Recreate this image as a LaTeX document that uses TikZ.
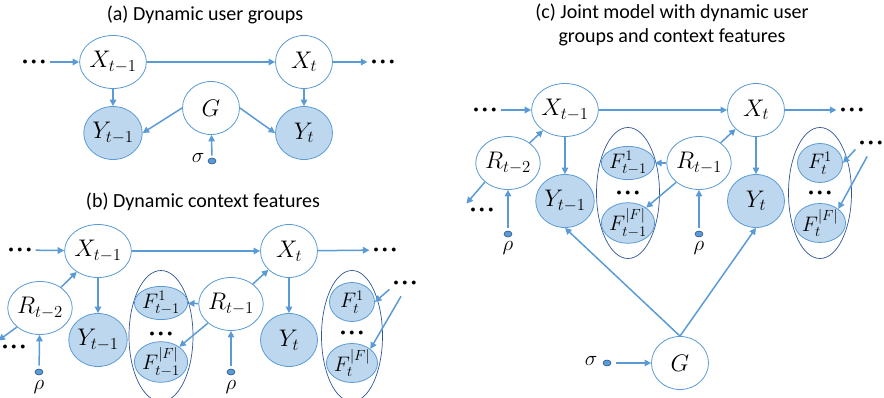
\RequirePackage{fix-cm}
\documentclass[tikz,border=0pt]{standalone}
\usepackage{amsmath}
\usepackage{fontspec}
\setmainfont{Carlito}
\usetikzlibrary{arrows.meta,shapes.geometric}
\definecolor{edge}{HTML}{5B9BD5}
\definecolor{obsbg}{HTML}{BDD7EE}
\definecolor{plate}{HTML}{2F5597}
\newcommand{\tridot}{$\bullet\,\bullet\,\bullet$}
\tikzset{
  var/.style={ellipse,draw=edge,fill=white,line width=0.8pt,inner sep=0pt,
    minimum width=57pt,minimum height=53pt,font=\fontsize{24}{28}\selectfont},
  obs/.style={var,fill=obsbg},
  feat/.style={obs,minimum width=45pt,minimum height=39pt,
    font=\fontsize{21}{24}\selectfont},
  featf/.style={feat,minimum height=31pt},
  plt/.style={ellipse,draw=plate,line width=0.7pt,inner sep=0pt,
    minimum width=64pt,minimum height=131pt},
  hyp/.style={ellipse,draw=plate,fill=edge,line width=0.6pt,inner sep=0pt,
    minimum width=8pt,minimum height=6pt},
  dts/.style={font=\fontsize{10}{12}\selectfont,inner sep=4pt},
  ar/.style={-{Triangle[length=6.5pt,width=6.5pt]},line width=1.5pt,draw=edge},
  ttl/.style={font=\fontsize{20}{24}\selectfont,align=center},
  hlbl/.style={font=\fontsize{21}{24}\selectfont},
}

\begin{document}
\begin{tikzpicture}[x=1pt,y=-1pt]
  \useasboundingbox (0,0) rectangle (884,398);
  % (a)
  \node[ttl] (ta) at (205,15) {(a) Dynamic user groups};
  \node[var] (aX1) at (113,62) {$X_{t-1}$};
  \node[var] (aX2) at (304,62) {$X_t$};
  \node[obs] (aY1) at (113,133) {$Y_{t-1}$};
  \node[obs] (aY2) at (304,133) {$Y_t$};
  \node[var] (aG) at (211,108) {$G$};
  \node[hyp] (aSig) at (212,161) {};
  \node[hlbl] (aSigL) at (198,158) {$\sigma$};
  \node[dts] (aL) at (34,62) {\tridot};
  \node[dts] (aR) at (383,62) {\tridot};
  \draw[ar] (aL) -- (aX1);
  \draw[ar] (aX1) -- (aX2);
  \draw[ar] (aX2) -- (aR);
  \draw[ar] (aX1) -- (aY1);
  \draw[ar] (aX2) -- (aY2);
  \draw[ar] (aG.west) -- (aY1.east);
  \draw[ar] (aG.east) -- (aY2.west);
  \draw[ar,shorten <=2pt] (aSig) -- (aG);
  % (b)
  \node[ttl] (tb) at (203,202) {(b) Dynamic context features};
  \node[plt] (bP1) at (161,336) {};
  \node[plt,minimum width=61pt] (bP2) at (352,336) {};
  \node[var] (bX1) at (98,251) {$X_{t-1}$};
  \node[var] (bX2) at (289,251) {$X_t$};
  \node[obs] (bY1) at (98,340) {$Y_{t-1}$};
  \node[obs] (bY2) at (289,340) {$Y_t$};
  \node[var] (bR1) at (40,308) {$R_{t-2}$};
  \node[var] (bR2) at (231,304) {$R_{t-1}$};
  \node[featf] (bF1) at (161,303) {$F_{t-1}^{1}$};
  \node[dts] (bFd) at (161,334) {\tridot};
  \node[feat] (bF2) at (161,362) {$F_{t-1}^{|F|}$};
  \node[feat] (bFt1) at (352,302) {$F_t^{1}$};
  \node[dts] (bFtd) at (352,333) {\tridot};
  \node[feat] (bFt2) at (352,363) {$F_t^{|F|}$};
  \node[hyp] (bRho1) at (39,372) {};
  \node[hlbl] (bRho1L) at (39,387) {$\rho$};
  \node[hyp] (bRho2) at (231,372) {};
  \node[hlbl] (bRho2L) at (231,387) {$\rho$};
  \node[dts] (bL) at (20,250) {\tridot};
  \node[dts] (bR) at (385,250) {\tridot};
  \node[dts] (bLL) at (14,347) {\tridot};
  \node[dts] (bRR) at (405,283) {\tridot};
  \draw[ar] (bL) -- (bX1);
  \draw[ar] (bX1) -- (bX2);
  \draw[ar] (bX2) -- (bR);
  \draw[ar] (bX1) -- (bY1);
  \draw[ar] (bX2) -- (bY2);
  \draw[ar] (bR1) -- (bX1);
  \draw[ar] (bR2) -- (bX2);
  \draw[ar] (bR2) -- (bF1);
  \draw[ar] (bR2) -- (bF2);
  \draw[ar] (bR1.south west) -- (bLL.north west);
  \draw[ar,shorten <=3pt] (bRho1) -- (bR1);
  \draw[ar,shorten <=3pt] (bRho2) -- (bR2);
  \draw[ar] (bRR.south west) -- (bFt1.east);
  \draw[ar,shorten <=8pt] (bRR.south) -- (bFt2.north east);
  % (c)
  \node[ttl] (tc) at (672,25) {(c) Joint model with dynamic user\\groups and context features};
  \node[plt,minimum width=63pt] (cP1) at (628,193) {};
  \node[plt,minimum width=63pt] (cP2) at (820,193) {};
  \node[var] (cX1) at (565,110) {$X_{t-1}$};
  \node[var] (cX2) at (756,110) {$X_t$};
  \node[var] (cR1) at (508,163) {$R_{t-2}$};
  \node[var] (cR2) at (699,163) {$R_{t-1}$};
  \node[obs] (cY1) at (565,201) {$Y_{t-1}$};
  \node[obs] (cY2) at (756,201) {$Y_t$};
  \node[featf] (cF1) at (628,163) {$F_{t-1}^{1}$};
  \node[dts] (cFd) at (628,193) {\tridot};
  \node[feat] (cF2) at (628,223) {$F_{t-1}^{|F|}$};
  \node[feat] (cFt1) at (820,163) {$F_t^{1}$};
  \node[dts] (cFtd) at (820,193) {\tridot};
  \node[feat] (cFt2) at (820,223) {$F_t^{|F|}$};
  \node[var] (cG) at (680,363) {$G$};
  \node[hyp] (cSig) at (607,363) {};
  \node[hlbl] (cSigL) at (591,361) {$\sigma$};
  \node[hyp] (cRho1) at (508,234) {};
  \node[hlbl] (cRho1L) at (508,248) {$\rho$};
  \node[hyp] (cRho2) at (699,234) {};
  \node[hlbl] (cRho2L) at (699,248) {$\rho$};
  \node[dts] (cL) at (485,110) {\tridot};
  \node[dts] (cR) at (852,110) {\tridot};
  \node[dts] (cLL) at (482,210) {\tridot};
  \node[dts] (cRR) at (871,143) {\tridot};
  \draw[ar] (cL) -- (cX1);
  \draw[ar] (cX1) -- (cX2);
  \draw[ar] (cX2) -- (cR);
  \draw[ar] (cX1) -- (cY1);
  \draw[ar] (cX2) -- (cY2);
  \draw[ar] (cR1) -- (cX1);
  \draw[ar] (cR2) -- (cX2);
  \draw[ar] (cR2) -- (cF1);
  \draw[ar] (cR2) -- (cF2);
  \draw[ar] (cR1.south west) -- (cLL.north west);
  \draw[ar,shorten <=3pt] (cRho1) -- (cR1);
  \draw[ar,shorten <=3pt] (cRho2) -- (cR2);
  \draw[ar] (cRR.south west) -- (cFt1.east);
  \draw[ar,shorten <=8pt] (cRR.south) -- (cFt2.north east);
  \draw[ar] (cG.north) -- (cY1.south);
  \draw[ar] (cG.north) -- (cY2.south);
  \draw[ar,shorten <=5pt] (cSig) -- (cG);
\end{tikzpicture}
\end{document}
